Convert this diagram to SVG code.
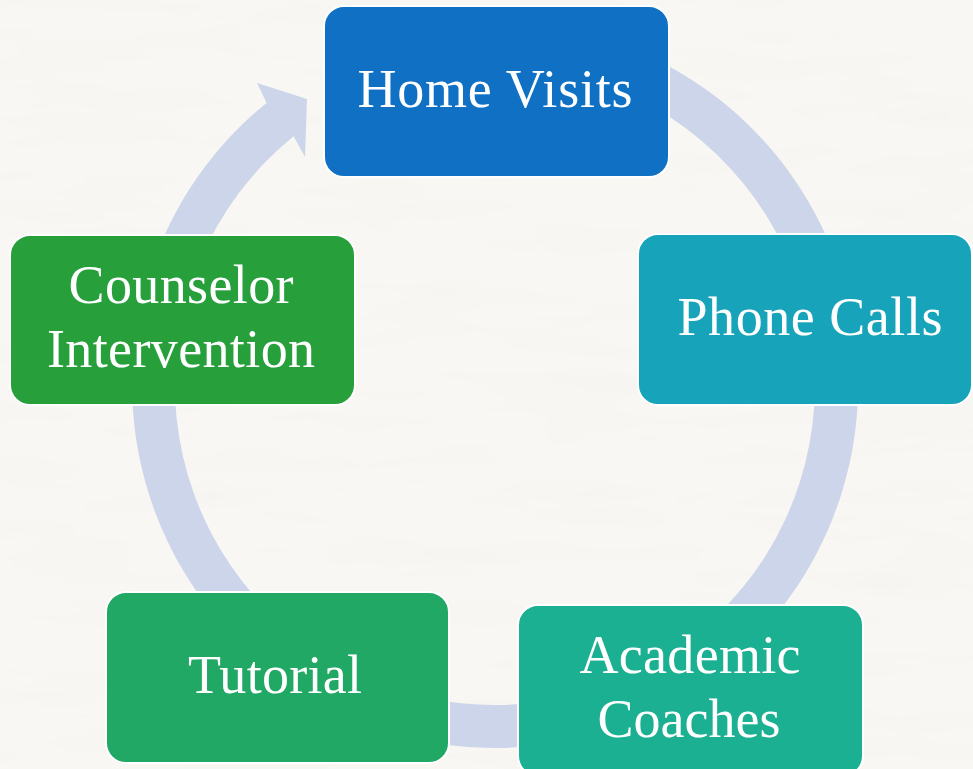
<svg xmlns="http://www.w3.org/2000/svg" width="973" height="769" viewBox="0 0 973 769">
  <defs>
    <filter id="paper" x="0" y="0" width="100%" height="100%" filterUnits="userSpaceOnUse">
      <feTurbulence type="fractalNoise" baseFrequency="0.006 0.035" numOctaves="3" seed="7" result="n"/>
      <feColorMatrix in="n" type="matrix" values="0 0 0 0 0.84  0 0 0 0 0.83  0 0 0 0 0.81  0.4 0 0 0 -0.18"/>
    </filter>
    <style>
      .node rect { stroke: #ffffff; stroke-width: 2; }
      .node text { font-family: "Liberation Serif", "Times New Roman", serif; font-size: 54px; fill: #ffffff; text-anchor: middle; }
      .ring { fill: #CCD5EA; }
    </style>
  </defs>
  <rect width="973" height="769" fill="#F9F7F3"/>
  <rect width="973" height="769" filter="url(#paper)"/>

  <g id="connectors">
    <path class="ring" d="M 370.8,43.9 A 363 363 0 1 1 266.6,102.9 L 257,83 L 307,99 L 305,157 L 293.6,136.3 A 320 320 0 1 0 385.6,84.3 Z"/>
  </g>

  <g id="home-visits" class="node">
    <rect x="324" y="6" width="345" height="171" rx="20" fill="#0F70C4"/>
    <text x="495" y="107" textLength="275" lengthAdjust="spacing">Home Visits</text>
  </g>
  <g id="phone-calls" class="node">
    <rect x="638" y="234" width="334" height="171" rx="20" fill="#17A3BA"/>
    <text x="810" y="335" textLength="265" lengthAdjust="spacing">Phone Calls</text>
  </g>
  <g id="academic-coaches" class="node">
    <rect x="518" y="605" width="345" height="171" rx="20" fill="#1CB092"/>
    <text x="690" y="673" textLength="221" lengthAdjust="spacing">Academic</text>
    <text x="689" y="737" textLength="183" lengthAdjust="spacing">Coaches</text>
  </g>
  <g id="tutorial" class="node">
    <rect x="106" y="592" width="343" height="171" rx="20" fill="#22A865"/>
    <text x="275" y="693" textLength="174" lengthAdjust="spacing">Tutorial</text>
  </g>
  <g id="counselor-intervention" class="node">
    <rect x="10" y="235" width="345" height="170" rx="20" fill="#27A03C"/>
    <text x="181" y="303" textLength="225" lengthAdjust="spacing">Counselor</text>
    <text x="181" y="367" textLength="268" lengthAdjust="spacing">Intervention</text>
  </g>
</svg>
